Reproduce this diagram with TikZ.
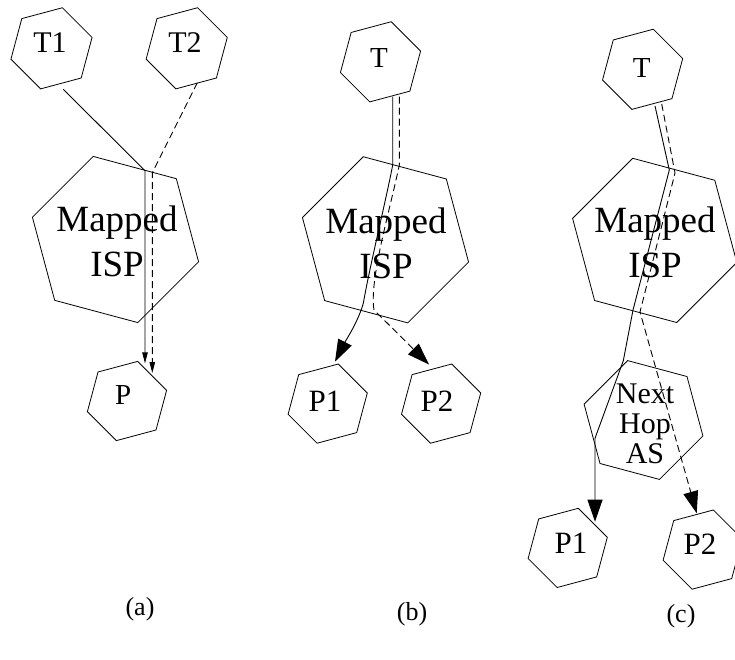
\documentclass[tikz,border=0pt]{standalone}
\usepackage{fontspec}
\setmainfont{Liberation Serif}
\usetikzlibrary{shapes.geometric,arrows.meta}
\tikzset{
  hexs/.style={draw, line width=0.8pt, regular polygon, regular polygon sides=6, inner sep=0pt, shape border rotate=15},
  hexl/.style={draw, line width=0.8pt, regular polygon, regular polygon sides=6, inner sep=0pt, shape border rotate=45},
  txt/.style={inner sep=0pt, align=center},
  conn/.style={line width=0.9pt},
  dconn/.style={line width=0.9pt, dash pattern=on 7pt off 4pt},
  tipsmall/.style={-{Triangle[length=11pt,width=5.5pt]}},
  tipbig/.style={-{Triangle[length=22pt,width=15pt]}},
  capt/.style={anchor=base, inner sep=0pt, font=\fontsize{26}{28}\selectfont},
}
\begin{document}
\begin{tikzpicture}[x=1pt,y=-1pt]
\useasboundingbox (0,0) rectangle (735,659);
% ---------- (a)
\node[hexs, minimum size=84pt] (T1) at (51.5,48.3) {};
\node[hexs, minimum size=84pt] (T2) at (186.7,48.3) {};
\node[hexl, minimum size=172pt] (ISPa) at (115.5,239.5) {};
\node[hexs, minimum size=82pt] (Pa) at (127,401) {};
\node[txt, font=\fontsize{30}{32}\selectfont] (T1t) at (50,43) {T1};
\node[txt, font=\fontsize{30}{32}\selectfont] (T2t) at (185,43) {T2};
\node[txt, font=\fontsize{37}{45}\selectfont] (ISPat) at (117,241.5) {Mapped\\ISP};
\node[txt, font=\fontsize{29}{31}\selectfont] (Pat) at (123.3,395) {P};
\coordinate (a1) at (63.3,89.3);
\coordinate (a2) at (145,170.7);
\coordinate (a3) at (145,363.3);
\coordinate (a4) at (197.3,82.7);
\coordinate (a5) at (152.3,172.7);
\coordinate (a6) at (152.3,373);
\draw[conn, tipsmall] (a1) -- (a2) -- (a3);
\draw[dconn, tipsmall] (a4) -- (a5) -- (a6);
% ---------- (b)
\node[hexs, minimum size=83pt] (Tb) at (380.5,61.8) {};
\node[hexl, minimum size=172pt] (ISPb) at (385.5,239.8) {};
\node[hexs, minimum size=82pt] (P1b) at (327.7,403.6) {};
\node[hexs, minimum size=82pt] (P2b) at (441.1,403.6) {};
\node[txt, font=\fontsize{29}{31}\selectfont] (Tbt) at (379,58) {T};
\node[txt, font=\fontsize{37}{45}\selectfont] (ISPbt) at (386,243) {Mapped\\ISP};
\node[txt, font=\fontsize{31}{33}\selectfont] (P1bt) at (325,401.7) {P1};
\node[txt, font=\fontsize{31}{33}\selectfont] (P2bt) at (437,401.7) {P2};
\coordinate (b1) at (392.7,96.7);
\coordinate (b2) at (392.7,165);
\coordinate (b3) at (363.3,303.3);
\coordinate (b4) at (335,361.7);
\coordinate (b5) at (399.3,96.7);
\coordinate (b6) at (399.3,165);
\coordinate (b7) at (374,310);
\coordinate (b8) at (429,364.5);
\draw[conn, tipbig] (b1) -- (b2) .. controls (386,200) and (370,265) .. (b3) .. controls (358,322) and (346,340) .. (b4);
\draw[dconn, tipbig] (b5) -- (b6) .. controls (390,210) and (369,280) .. (b7) -- (b8);
% ---------- (c)
\node[hexs, minimum size=83pt] (Tc) at (642.6,69.3) {};
\node[hexl, minimum size=170pt] (ISPc) at (654.7,240.4) {};
\node[hexl, minimum size=123pt] (NHc) at (643.5,420) {};
\node[hexs, minimum size=82pt] (P1c) at (567.7,547.9) {};
\node[hexs, minimum size=82pt] (P2c) at (702.7,549.6) {};
\node[txt, font=\fontsize{29}{31}\selectfont] (Tct) at (641.7,68) {T};
\node[txt, font=\fontsize{37}{45}\selectfont] (ISPct) at (655,242.5) {Mapped\\ISP};
\node[txt, font=\fontsize{30}{30}\selectfont] (NHct) at (645,423.5) {Next\\Hop\\AS};
\node[txt, font=\fontsize{31}{33}\selectfont] (P1ct) at (571,543.3) {P1};
\node[txt, font=\fontsize{31}{33}\selectfont] (P2ct) at (700,544) {P2};
\coordinate (c1) at (655,106);
\coordinate (c2) at (669.3,170);
\coordinate (c3) at (633,310);
\coordinate (c4) at (623.3,360.7);
\coordinate (c5) at (595,438.3);
\coordinate (c6) at (595,521.7);
\coordinate (c7) at (661.7,104);
\coordinate (c8) at (675,173);
\coordinate (c9) at (640,312);
\coordinate (c10) at (696.7,513.3);
\draw[conn, tipbig] (c1) -- (c2) -- (c3) -- (c4) -- (c5) -- (c6);
\draw[dconn, tipbig] (c7) -- (c8) -- (c9) -- (c10);
% ---------- captions
\node[capt] (capa) at (140,615) {(a)};
\node[capt] (capb) at (412,620) {(b)};
\node[capt] (capc) at (681,622) {(c)};
\end{tikzpicture}
\end{document}
